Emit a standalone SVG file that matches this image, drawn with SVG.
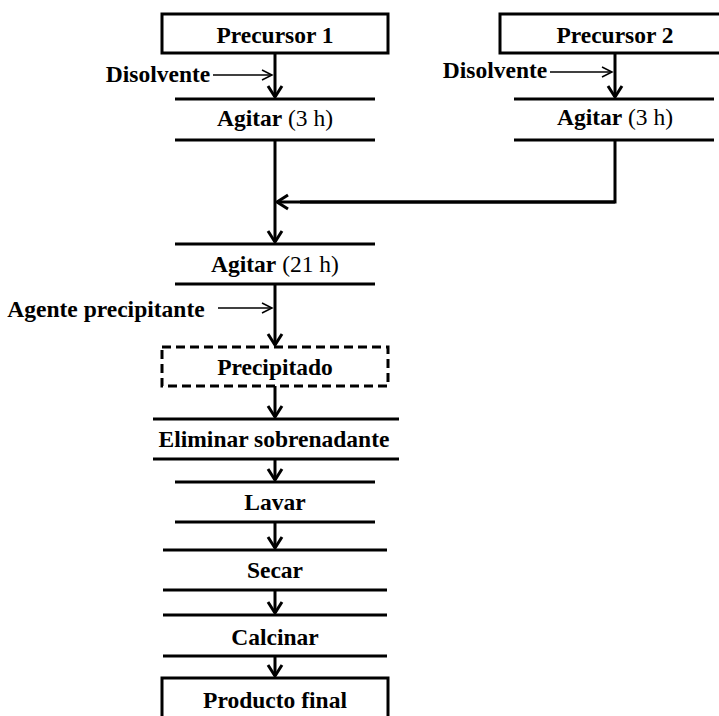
<svg xmlns="http://www.w3.org/2000/svg" width="719" height="716" viewBox="0 0 719 716">
<style>
text{font-family:"Liberation Serif","Times New Roman",serif;font-size:23.5px;font-weight:bold;fill:#000;text-anchor:middle}
.n{font-weight:normal}
.box{fill:#fff;stroke:#000;stroke-width:3}
.dash{fill:#fff;stroke:#000;stroke-width:3;stroke-dasharray:9 5}
.bar{stroke:#000;stroke-width:3;fill:none}
.main{stroke:#000;stroke-width:3;fill:none;marker-end:url(#thick)}
.plain{stroke:#000;stroke-width:3;fill:none}
.thin{stroke:#000;stroke-width:1.5;fill:none;marker-end:url(#thinhead)}
</style>
<defs>
<marker id="thick" markerUnits="userSpaceOnUse" markerWidth="30" markerHeight="30" viewBox="-15 -15 30 30" refX="0" refY="0" orient="auto" overflow="visible">
<path d="M-11,-7 L0,0 L-11,7" fill="none" stroke="#000" stroke-width="3"/>
</marker>
<marker id="thinhead" markerUnits="userSpaceOnUse" markerWidth="30" markerHeight="30" viewBox="-15 -15 30 30" refX="0" refY="0" orient="auto" overflow="visible">
<path d="M-10,-5 L0,0 L-10,5" fill="none" stroke="#000" stroke-width="1.5"/>
</marker>
</defs>

<g id="connectors">
<line class="main" x1="275" y1="53" x2="275" y2="97"/>
<line class="main" x1="615" y1="53" x2="615" y2="97"/>
<line class="thin" x1="213" y1="75" x2="272" y2="75"/>
<line class="thin" x1="550" y1="72" x2="612" y2="72"/>
<polyline class="plain" points="615,140 615,202 300,202"/>
<line class="main" x1="615" y1="202" x2="277" y2="202"/>
<line class="main" x1="275" y1="140" x2="275" y2="242"/>
<line class="main" x1="275" y1="284" x2="275" y2="345"/>
<line class="thin" x1="218" y1="308" x2="272" y2="308"/>
<line class="main" x1="275" y1="386" x2="275" y2="417"/>
<line class="main" x1="275" y1="459" x2="275" y2="480"/>
<line class="main" x1="275" y1="522" x2="275" y2="548"/>
<line class="main" x1="275" y1="590" x2="275" y2="613"/>
<line class="main" x1="275" y1="656" x2="275" y2="676"/>
</g>

<g id="precursor1">
<rect class="box" x="162" y="14" width="226" height="39"/>
<text x="275" y="43">Precursor 1</text>
</g>
<g id="precursor2">
<rect class="box" x="500" y="14" width="240" height="39"/>
<text x="615" y="43">Precursor 2</text>
</g>
<g id="disolvente1">
<text x="158" y="82">Disolvente</text>
</g>
<g id="disolvente2">
<text x="495" y="78">Disolvente</text>
</g>
<g id="agitar1">
<line class="bar" x1="175" y1="99" x2="375" y2="99"/>
<line class="bar" x1="175" y1="140" x2="375" y2="140"/>
<text x="275" y="126">Agitar<tspan class="n"> (3 h)</tspan></text>
</g>
<g id="agitar2">
<line class="bar" x1="514" y1="99" x2="714" y2="99"/>
<line class="bar" x1="514" y1="140" x2="714" y2="140"/>
<text x="615" y="125">Agitar<tspan class="n"> (3 h)</tspan></text>
</g>
<g id="agitar21">
<line class="bar" x1="175" y1="244" x2="375" y2="244"/>
<line class="bar" x1="175" y1="284" x2="375" y2="284"/>
<text x="275" y="272">Agitar<tspan class="n"> (21 h)</tspan></text>
</g>
<g id="agente">
<text x="106" y="317">Agente precipitante</text>
</g>
<g id="precipitado">
<rect class="dash" x="162" y="347" width="226" height="39"/>
<text x="275" y="375">Precipitado</text>
</g>
<g id="eliminar">
<line class="bar" x1="153" y1="419" x2="399" y2="419"/>
<line class="bar" x1="153" y1="459" x2="399" y2="459"/>
<text x="274" y="447">Eliminar sobrenadante</text>
</g>
<g id="lavar">
<line class="bar" x1="175" y1="482" x2="375" y2="482"/>
<line class="bar" x1="175" y1="522" x2="375" y2="522"/>
<text x="275" y="510">Lavar</text>
</g>
<g id="secar">
<line class="bar" x1="163" y1="550" x2="387" y2="550"/>
<line class="bar" x1="163" y1="590" x2="387" y2="590"/>
<text x="275" y="578">Secar</text>
</g>
<g id="calcinar">
<line class="bar" x1="163" y1="615" x2="387" y2="615"/>
<line class="bar" x1="163" y1="656" x2="387" y2="656"/>
<text x="275" y="645">Calcinar</text>
</g>
<g id="producto">
<rect class="box" x="162" y="678" width="226" height="45"/>
<text x="275" y="708">Producto final</text>
</g>
</svg>
